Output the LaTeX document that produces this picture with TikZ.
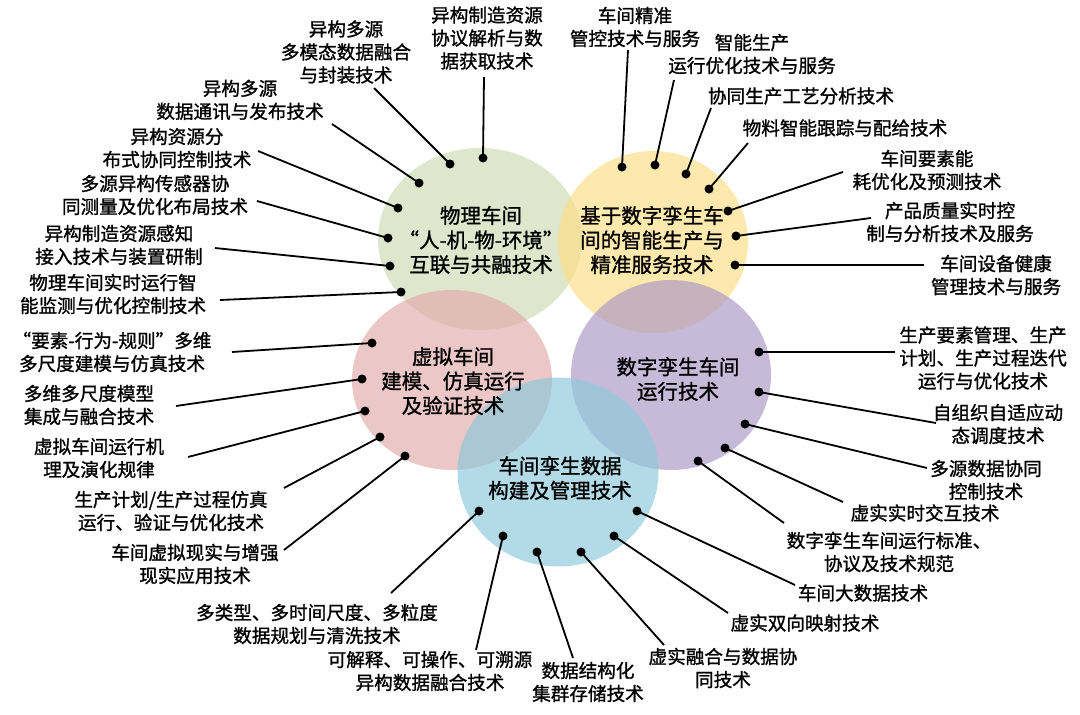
\documentclass[tikz,border=0pt]{standalone}
\usepackage{fontspec}
\setmainfont{Noto Sans CJK SC}[AutoFakeBold=1.2]
\usetikzlibrary{shapes.geometric}
\definecolor{cgreen}{RGB}{207,219,180}
\definecolor{cyellow}{RGB}{252,222,135}
\definecolor{cpink}{RGB}{225,172,172}
\definecolor{cpurple}{RGB}{172,153,198}
\definecolor{cblue}{RGB}{142,201,219}
\tikzset{
  blob/.style={ellipse, draw=none, inner sep=0pt, fill opacity=0.68},
  ctext/.style={align=center, inner sep=0pt, font=\fontsize{20.5}{24.5}\selectfont\bfseries},
  lab/.style={align=center, inner sep=0pt, font=\fontsize{18.6}{23}\selectfont\bfseries},
  dot/.style={circle, fill=black, inner sep=0pt, minimum size=9pt},
  conn/.style={line width=1.8pt, black}
}
\begin{document}
\begin{tikzpicture}[x=1pt,y=-1pt]
\useasboundingbox (0,0) rectangle (1080,715);
% circles
\node[blob, fill=cgreen, minimum width=204pt, minimum height=182pt] (g) at (480,239) {};
\node[blob, fill=cyellow, minimum width=190pt, minimum height=182pt] (y) at (653,242) {};
\node[blob, fill=cpink, minimum width=200pt, minimum height=180pt] (p) at (452,380) {};
\node[blob, fill=cpurple, minimum width=200pt, minimum height=190pt] (u) at (671,375) {};
\node[blob, fill=cblue, minimum width=201pt, minimum height=189pt] (b) at (558,472) {};
% circle texts
\node[ctext] (gt) at (481,240) {物理车间\\“人-机-物-环境”\\互联与共融技术};
\node[ctext] (yt) at (652,240) {基于数字孪生车\\间的智能生产与\\精准服务技术};
\node[ctext] (pt) at (453,381) {虚拟车间\\建模、仿真运行\\及验证技术};
\node[ctext] (ut) at (678,379) {数字孪生车间\\运行技术};
\node[ctext] (bt) at (560,478) {车间孪生数据\\构建及管理技术};
% labels
\node[lab] (a1) at (487,38) {异构制造资源\\协议解析与数\\据获取技术};
\node[lab] (a2) at (346,52) {异构多源\\多模态数据融合\\与封装技术};
\node[lab] (a3) at (240,100) {异构多源\\数据通讯与发布技术};
\node[lab] (a4) at (177,148) {异构资源分\\布式协同控制技术};
\node[lab] (a5) at (155,195) {多源异构传感器协\\同测量及优化布局技术};
\node[lab] (a6) at (119,245) {异构制造资源感知\\接入技术与装置研制};
\node[lab] (a7) at (113,294) {物理车间实时运行智\\能监测与优化控制技术};
\node[lab] (b1) at (635,27) {车间精准\\管控技术与服务};
\node[lab] (b2) at (752,54) {智能生产\\运行优化技术与服务};
\node[lab] (b3) at (801,96) {协同生产工艺分析技术};
\node[lab] (b4) at (845,128) {物料智能跟踪与配给技术};
\node[lab] (b5) at (927,170) {车间要素能\\耗优化及预测技术};
\node[lab] (b6) at (950,222) {产品质量实时控\\制与分析技术及服务};
\node[lab] (b7) at (996,275) {车间设备健康\\管理技术与服务};
\node[lab] (c1) at (112,352) {“要素-行为-规则”多维\\多尺度建模与仿真技术};
\node[lab] (c2) at (89,405) {多维多尺度模型\\集成与融合技术};
\node[lab] (c3) at (99,458) {虚拟车间运行机\\理及演化规律};
\node[lab] (c4) at (171,511) {生产计划/生产过程仿真\\运行、验证与优化技术};
\node[lab] (c5) at (195,564) {车间虚拟现实与增强\\现实应用技术};
\node[lab] (d1) at (317,624) {多类型、多时间尺度、多粒度\\数据规划与清洗技术};
\node[lab] (d2) at (430,671) {可解释、可操作、可溯源\\异构数据融合技术};
\node[lab] (d3) at (588,682) {数据结构化\\集群存储技术};
\node[lab] (d4) at (723,668) {虚实融合与数据协\\同技术};
\node[lab] (d5) at (805,623) {虚实双向映射技术};
\node[lab] (d6) at (863,593) {车间大数据技术};
\node[lab] (e1) at (983,358) {生产要素管理、生产\\计划、生产过程迭代\\运行与优化技术};
\node[lab] (e2) at (998,424) {自组织自适应动\\态调度技术};
\node[lab] (e3) at (986,480) {多源数据协同\\控制技术};
\node[lab] (e4) at (925,513) {虚实实时交互技术};
\node[lab] (e5) at (889,552) {数字孪生车间运行标准、\\协议及技术规范};
% dots
\node[dot] (a1d) at (483,158) {};
\node[dot] (a2d) at (450,164) {};
\node[dot] (a3d) at (419,183) {};
\node[dot] (a4d) at (398,208) {};
\node[dot] (a5d) at (388,238) {};
\node[dot] (a6d) at (390,266) {};
\node[dot] (a7d) at (401,292) {};
\node[dot] (b1d) at (622,167) {};
\node[dot] (b2d) at (655,165) {};
\node[dot] (b3d) at (686,174) {};
\node[dot] (b4d) at (709,189) {};
\node[dot] (b5d) at (728,211) {};
\node[dot] (b6d) at (736,236) {};
\node[dot] (b7d) at (735,265) {};
\node[dot] (c1d) at (372,343) {};
\node[dot] (c2d) at (362,379) {};
\node[dot] (c3d) at (365,411) {};
\node[dot] (c4d) at (380,437) {};
\node[dot] (c5d) at (405,456) {};
\node[dot] (d1d) at (479,511) {};
\node[dot] (d2d) at (503,536) {};
\node[dot] (d3d) at (537,552) {};
\node[dot] (d4d) at (581,552) {};
\node[dot] (d5d) at (614,536) {};
\node[dot] (d6d) at (637,511) {};
\node[dot] (e1d) at (759,352) {};
\node[dot] (e2d) at (759,392) {};
\node[dot] (e3d) at (745,424) {};
\node[dot] (e4d) at (725,448) {};
\node[dot] (e5d) at (698,461) {};
% line ends near labels
\coordinate (a1s) at (484,77);
\coordinate (a2s) at (374,88);
\coordinate (a3s) at (332,124);
\coordinate (a4s) at (258,151);
\coordinate (a5s) at (257,201);
\coordinate (a6s) at (215,248);
\coordinate (a7s) at (220,300);
\coordinate (b1s) at (628,50);
\coordinate (b2s) at (674,80);
\coordinate (b3s) at (711,108);
\coordinate (b4s) at (748,143);
\coordinate (b5s) at (843,172);
\coordinate (b6s) at (871,218);
\coordinate (b7s) at (924,265);
\coordinate (c1s) at (232,352);
\coordinate (c2s) at (176,406);
\coordinate (c3s) at (188,457);
\coordinate (c4s) at (284,488);
\coordinate (c5s) at (284,550);
\coordinate (d1s) at (391,593);
\coordinate (d2s) at (476,650);
\coordinate (d3s) at (573,658);
\coordinate (d4s) at (664,645);
\coordinate (d5s) at (728,613);
\coordinate (d6s) at (795,585);
\coordinate (e1s) at (895,352);
\coordinate (e2s) at (936,423);
\coordinate (e3s) at (927,468);
\coordinate (e4s) at (843,502);
\coordinate (e5s) at (784,523);
% connectors
\foreach \n in {a1,a2,a3,a4,a5,a6,a7,b1,b2,b3,b4,b5,b6,b7,c1,c2,c3,c4,c5,d1,d2,d3,d4,d5,d6,e1,e2,e3,e4,e5}
  \draw[conn] (\n s) -- (\n d.center);
\end{tikzpicture}
\end{document}
